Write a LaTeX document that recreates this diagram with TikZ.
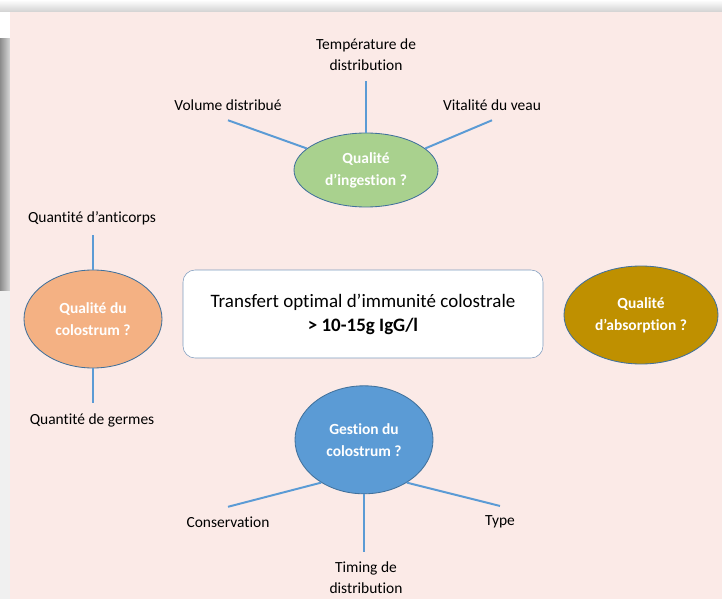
\documentclass[tikz,border=0pt]{standalone}
\usepackage{fontspec}
\setmainfont{Carlito}[Ligatures=NoCommon]
\usetikzlibrary{shapes.geometric}

\definecolor{panelpink}{HTML}{FBEAE7}
\definecolor{spokeblue}{HTML}{5B9BD5}
\definecolor{bubbleline}{HTML}{41719C}
\definecolor{ingestgreen}{HTML}{A9D18E}
\definecolor{colosorange}{HTML}{F4B183}
\definecolor{absorbgold}{HTML}{BF9000}
\definecolor{gestblue}{HTML}{5B9BD5}
\definecolor{boxline}{HTML}{7F9DBF}

\begin{document}
\begin{tikzpicture}[
  bubble/.style={ellipse,draw=bubbleline,line width=0.6pt,text=white,
    font=\bfseries\fontsize{11}{15.5}\selectfont,align=center,inner sep=0pt},
  leaf/.style={align=center,font=\fontsize{11}{15}\selectfont,inner sep=1pt,outer sep=6pt},
  spoke/.style={draw=spokeblue,line width=1.4pt}]
  \useasboundingbox (0,0) rectangle (18.05,14.975);
  % background and shadow
  \fill[white] (0,0) rectangle (18.05,14.975);
  \shade[top color=white,bottom color=black!18] (0,14.675) rectangle (18.05,14.975);
  \shade[left color=black!45,right color=black!15] (0,7.7) rectangle (0.25,14.0);
  \fill[black!6] (0,0) rectangle (0.25,7.7);
  \fill[panelpink] (0.25,0) rectangle (18.05,14.675);

  % central goal
  \node[draw=boxline,fill=white,rounded corners=0.3cm,minimum width=9cm,minimum height=2.2cm,
        align=center,font=\fontsize{13.5}{17}\selectfont] (goal) at (9.075,7.125)
        {Transfert optimal d’immunité colostrale\\\textbf{> 10-15g IgG/l}};

  % four questions
  \node[bubble,fill=ingestgreen,minimum width=3.6cm,minimum height=1.85cm] (ingest) at (9.15,10.725) {Qualité\\d’ingestion ?};
  \node[bubble,fill=colosorange,minimum width=3.45cm,minimum height=2.45cm] (colos) at (2.325,7.0) {Qualité du\\colostrum ?};
  \node[bubble,fill=absorbgold,minimum width=3.85cm,minimum height=2.45cm] (absorb) at (16.025,7.1) {Qualité\\d’absorption ?};
  \node[bubble,fill=gestblue,minimum width=3.45cm,minimum height=2.7cm] (gest) at (9.1,3.98) {Gestion du\\colostrum ?};

  % factors
  \node[leaf] (temp) at (9.15,13.6) {Température de\\distribution};
  \node[leaf] (vol) at (5.7,12.35) {Volume distribué};
  \node[leaf] (vital) at (12.3,12.35) {Vitalité du veau};
  \node[leaf] (anti) at (2.3,9.525) {Quantité d’anticorps};
  \node[leaf] (germ) at (2.3,4.475) {Quantité de germes};
  \node[leaf] (cons) at (5.7,1.925) {Conservation};
  \node[leaf] (timing) at (9.15,0.525) {Timing de\\distribution};
  \node[leaf] (type) at (12.5,1.925) {Type};

  % spokes
  \draw[spoke] (ingest.north) -- (ingest.north |- temp.south);
  \draw[spoke] (ingest.160) -- (vol.south);
  \draw[spoke] (ingest.20) -- (vital.south);
  \draw[spoke] (colos.north) -- (colos.north |- anti.south);
  \draw[spoke] (colos.south) -- (colos.south |- germ.north);
  \draw[spoke] (gest.225) -- (cons.north);
  \draw[spoke] (gest.south) -- (gest.south |- timing.north);
  \draw[spoke] (gest.315) -- (type.north);
\end{tikzpicture}
\end{document}
